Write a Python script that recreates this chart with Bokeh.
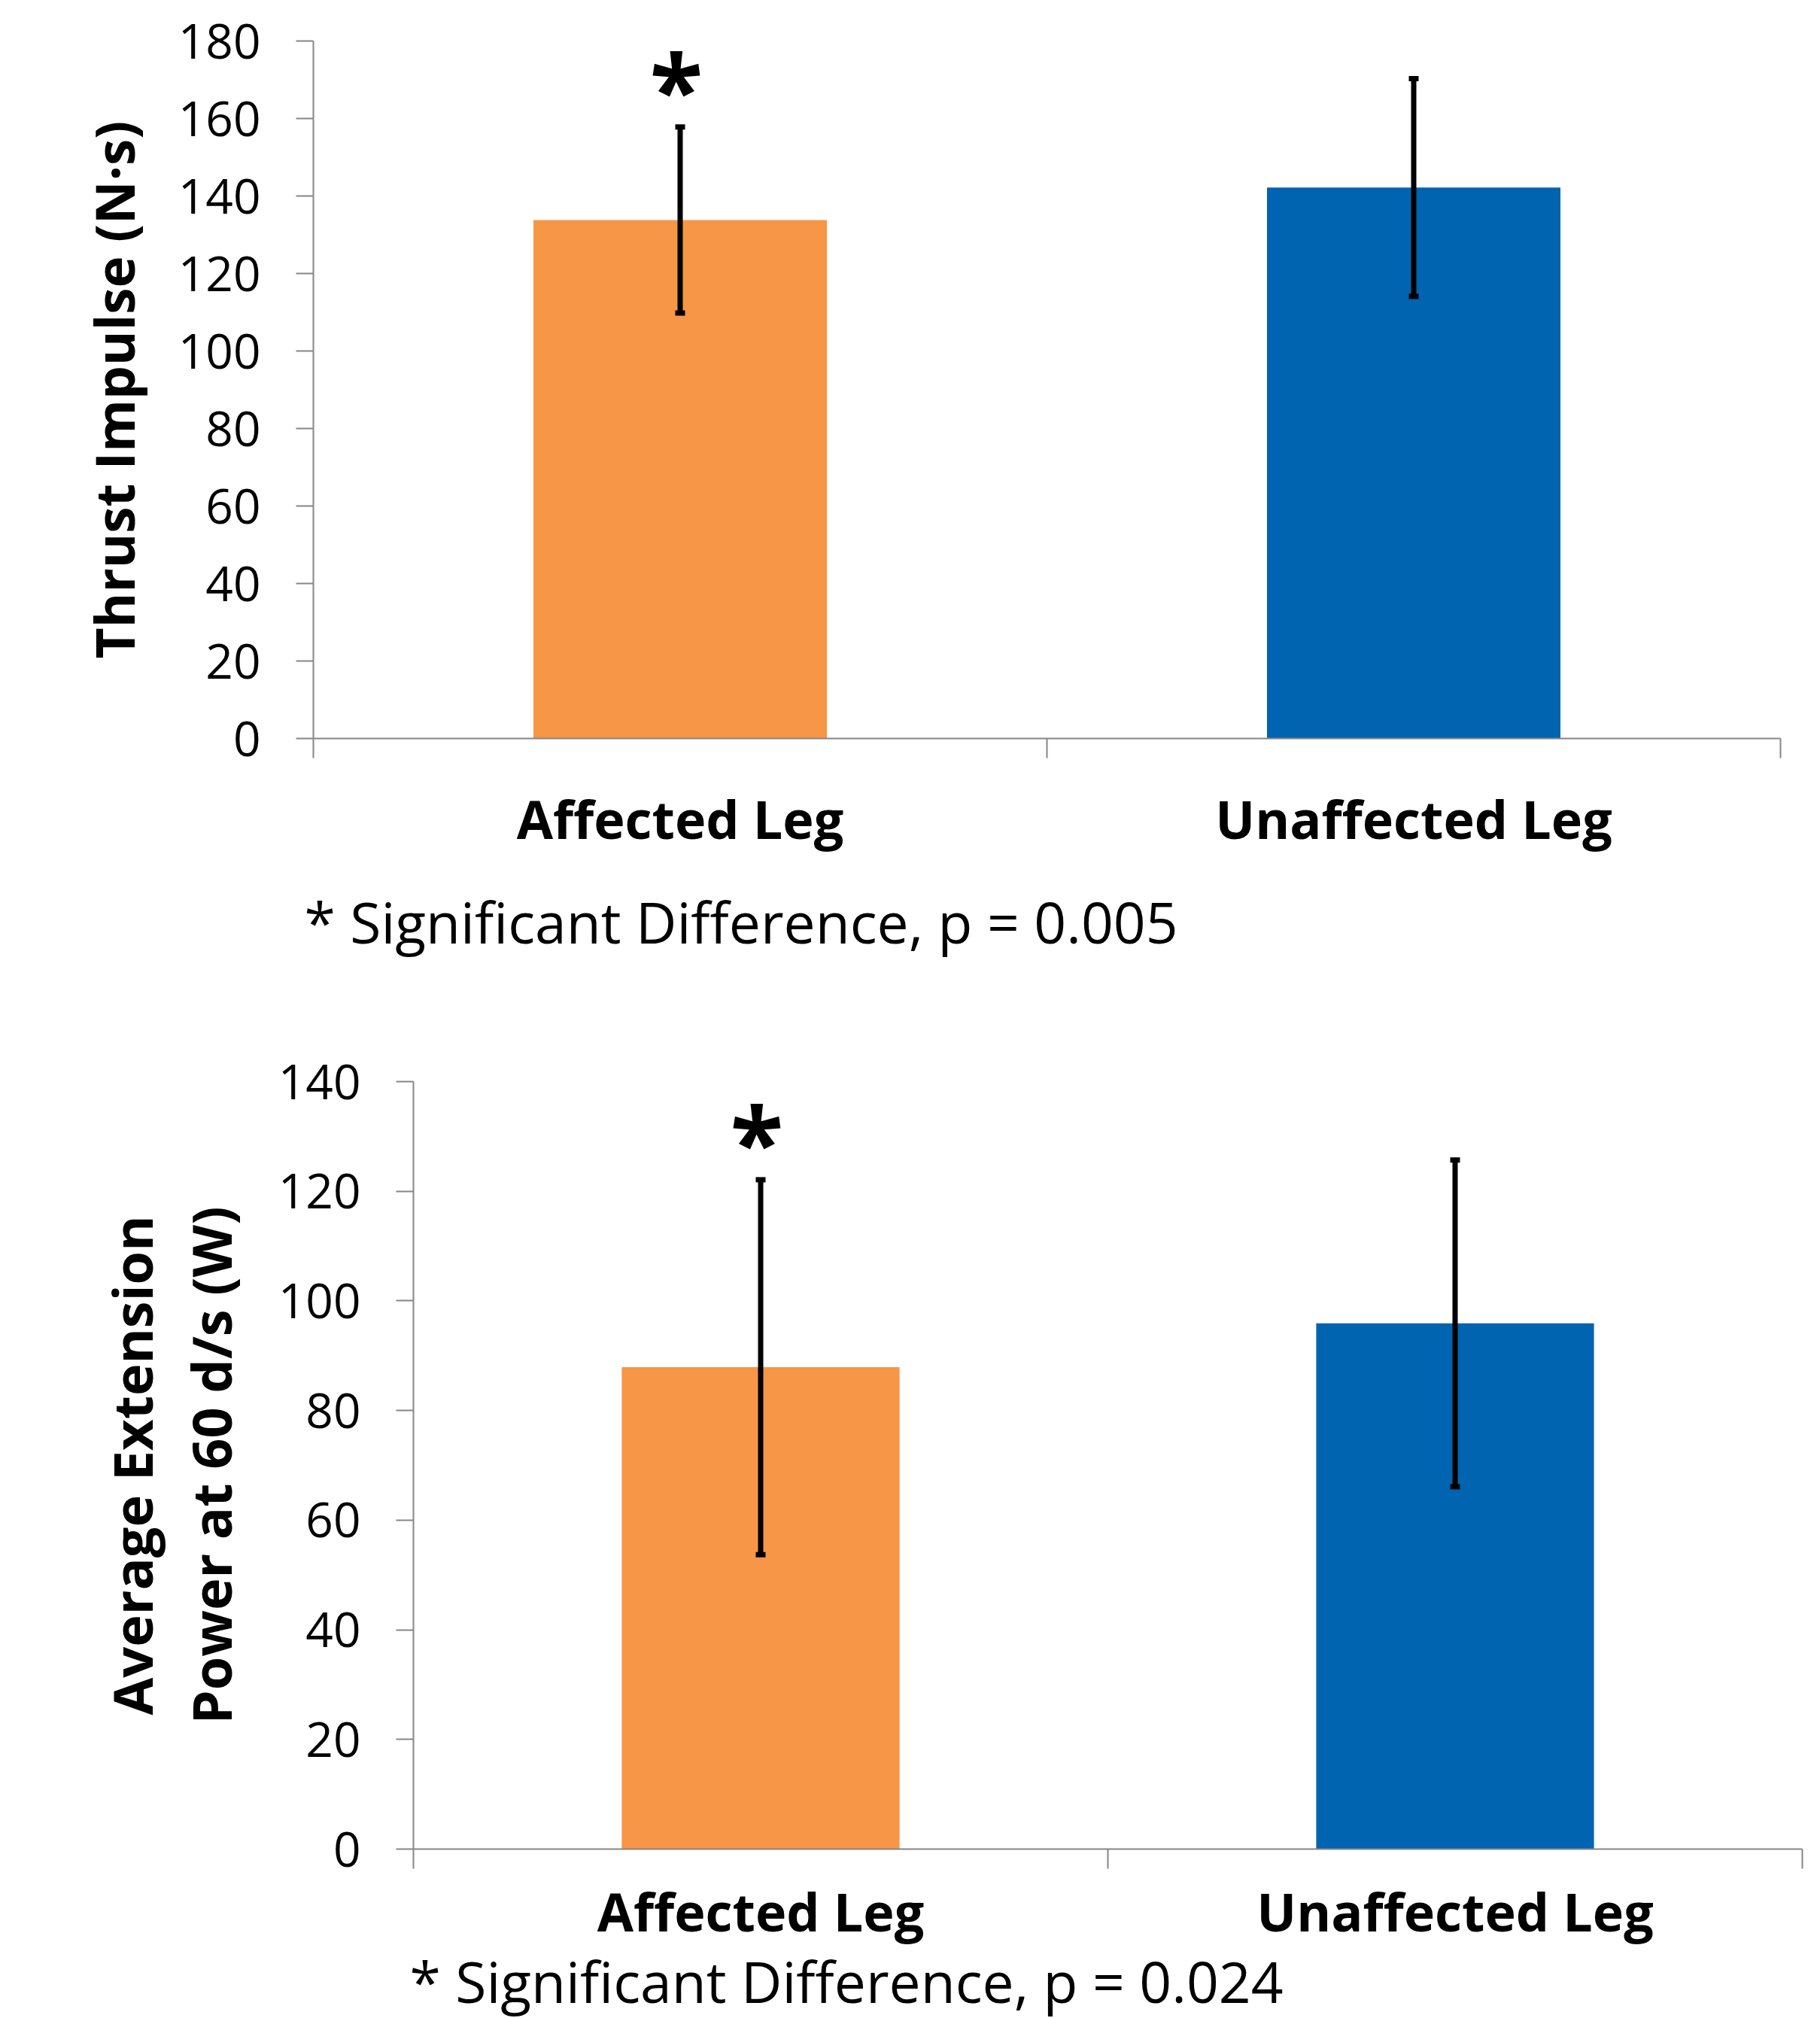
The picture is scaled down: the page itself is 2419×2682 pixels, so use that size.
from bokeh.plotting import figure
from bokeh.layouts import column
from bokeh.models import Range1d, FixedTicker, Whisker, TeeHead, ColumnDataSource, Title
from bokeh.core.properties import value
from bokeh.embed import file_html
from bokeh.resources import INLINE

# ---------------- data ----------------
categories = ["Affected Leg", "Unaffected Leg"]
bar_colors = ["#F79646", "#0064B0"]

thrust_mean = [133.8, 142.2]
thrust_err = [24.0, 28.1]
thrust_sig = [True, False]
thrust_ticks = [0, 20, 40, 60, 80, 100, 120, 140, 160, 180]
thrust_label = "Thrust Impulse (N·s)"
thrust_note = "* Significant Difference, p = 0.005"

power_mean = [87.9, 95.9]
power_err = [34.2, 29.8]
power_sig = [True, False]
power_ticks = [0, 20, 40, 60, 80, 100, 120, 140]
power_label = "Average Extension\nPower at 60 d/s (W)"
power_note = "* Significant Difference, p = 0.024"

FONT = "Open Sans"
AXIS_GRAY = "#868686"
PAGE_W = 2419


def make_chart(means, errs, sig, ticks, ylabel, note, height, mb_left, mb_right,
               mb_top, mb_bottom, xlabel_standoff, ylabel_standoff, note_offset,
               note_standoff, title_size):
    n = len(categories)
    y_max = ticks[-1]
    p = figure(width=PAGE_W, height=height, x_range=Range1d(0, n),
               y_range=Range1d(0, y_max), output_backend="svg",
               toolbar_location=None, min_border_left=mb_left,
               min_border_right=mb_right, min_border_top=mb_top,
               min_border_bottom=mb_bottom)
    p.frame_align = False
    p.outline_line_color = None
    p.xgrid.grid_line_color = None
    p.ygrid.grid_line_color = None
    p.background_fill_color = "white"

    xs = [i + 0.5 for i in range(n)]
    src = ColumnDataSource(dict(
        x=xs, top=means, color=bar_colors,
        upper=[m + e for m, e in zip(means, errs)],
        lower=[m - e for m, e in zip(means, errs)],
    ))
    p.vbar(x="x", top="top", bottom=0, width=0.4, fill_color="color",
           line_color=None, source=src)

    whisk = Whisker(base="x", upper="upper", lower="lower", source=src,
                    line_width=7, line_color="black", level="overlay",
                    upper_head=TeeHead(size=13, line_width=7, line_color="black"),
                    lower_head=TeeHead(size=13, line_width=7, line_color="black"))
    p.add_layout(whisk)

    sx = [x for x, s in zip(xs, sig) if s]
    sy = [m + e for m, e, s in zip(means, errs, sig) if s]
    star_src = ColumnDataSource(dict(x=sx, y=sy, t=["*"] * len(sx)))
    p.text(x="x", y="y", text="t", source=star_src, text_font=value(FONT),
           text_font_style="bold", text_font_size="130px", text_align="center",
           text_baseline="alphabetic", y_offset=-53, x_offset=-5, text_color="black")

    # x axis: labels at category centres, tick marks at category boundaries
    xa = p.xaxis[0]
    xa.ticker = FixedTicker(ticks=xs, minor_ticks=list(range(n + 1)))
    xa.major_label_overrides = {x: c for x, c in zip(xs, categories)}
    xa.major_tick_out = 0
    xa.major_tick_in = 0
    xa.minor_tick_out = 26
    xa.minor_tick_in = 0
    xa.minor_tick_line_color = AXIS_GRAY
    xa.minor_tick_line_width = 2
    xa.axis_line_color = AXIS_GRAY
    xa.axis_line_width = 2
    xa.major_label_text_font = FONT
    xa.major_label_text_font_style = "bold"
    xa.major_label_text_font_size = "70px"
    xa.major_label_text_color = "black"
    xa.major_label_standoff = xlabel_standoff

    ya = p.yaxis[0]
    ya.ticker = FixedTicker(ticks=ticks)
    ya.major_tick_out = 23
    ya.major_tick_in = 0
    ya.minor_tick_out = 0
    ya.minor_tick_in = 0
    ya.major_tick_line_color = AXIS_GRAY
    ya.major_tick_line_width = 2
    ya.axis_line_color = AXIS_GRAY
    ya.axis_line_width = 2
    ya.major_label_text_font = FONT
    ya.major_label_text_font_size = "64px"
    ya.major_label_text_color = "black"
    ya.major_label_standoff = 47
    ya.axis_label = ylabel
    ya.axis_label_text_font = FONT
    ya.axis_label_text_font_style = "bold"
    ya.axis_label_text_font_size = title_size
    ya.axis_label_text_color = "black"
    ya.axis_label_text_line_height = 1.07
    ya.axis_label_standoff = ylabel_standoff

    # footnote under the category labels
    t = Title(text=note, align="left", offset=note_offset, standoff=note_standoff,
              text_font=FONT, text_font_size="75px", text_font_style="normal",
              text_color="black")
    p.add_layout(t, "below")
    return p


p1 = make_chart(thrust_mean, thrust_err, thrust_sig, thrust_ticks, thrust_label,
                thrust_note, height=1330, mb_left=416, mb_right=53, mb_top=54,
                mb_bottom=349, xlabel_standoff=32, ylabel_standoff=34,
                note_offset=-12, note_standoff=66, title_size="71px")
p2 = make_chart(power_mean, power_err, power_sig, power_ticks, power_label,
                power_note, height=1352, mb_left=549, mb_right=24, mb_top=107,
                mb_bottom=225, xlabel_standoff=8, ylabel_standoff=38,
                note_offset=-5, note_standoff=-22, title_size="72px")

layout = column(p1, p2)
open("out.html", "w").write(file_html(layout, INLINE))
